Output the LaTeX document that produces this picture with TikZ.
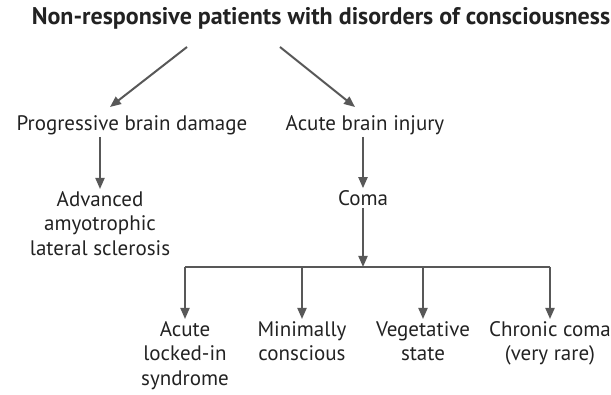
\documentclass[tikz,border=0pt]{standalone}
\usepackage{fontspec}
\setmainfont{PT Sans}
\usetikzlibrary{arrows.meta}

\definecolor{inkgray}{HTML}{222222}
\definecolor{arrowgray}{HTML}{585858}

\tikzset{
  labeltext/.style={text=inkgray, font=\fontsize{21}{24.5}\selectfont, align=center, inner sep=2pt},
  titletext/.style={text=inkgray, font=\fontsize{24}{28}\selectfont\bfseries, inner sep=2pt},
  arr/.style={draw=arrowgray, line width=2pt, -{Triangle[length=11pt,width=9pt]}},
  busline/.style={draw=arrowgray, line width=2pt},
}

\begin{document}
\begin{tikzpicture}[x=1pt,y=-1pt]
  % Page size
  \useasboundingbox (0,0) rectangle (611,395);

  % Title
  \node[titletext] (title) at (321,18) {Non-responsive patients with disorders of consciousness};

  % Two causes
  \node[labeltext] (prog) at (132,125) {Progressive brain damage};
  \node[labeltext] (acute) at (365,125) {Acute brain injury};

  % Next level
  \node[labeltext, anchor=north] (als) at (100,189) {Advanced\\amyotrophic\\lateral sclerosis};
  \node[labeltext] (coma) at (363,198) {Coma};

  % Outcomes of coma
  \node[labeltext, anchor=north] (lis) at (185,319) {Acute\\locked-in\\syndrome};
  \node[labeltext, anchor=north] (mcs) at (302,319) {Minimally\\conscious};
  \node[labeltext, anchor=north] (veg) at (423,319) {Vegetative\\state};
  \node[labeltext, anchor=north] (chr) at (550,319) {Chronic coma\\(very rare)};

  % Ends of the two slanted arrows
  \coordinate (leftstart) at (187,47);
  \coordinate (leftend) at (110,107);
  \coordinate (rightstart) at (280,47);
  \coordinate (rightend) at (355,107);
  \coordinate (fork) at (363,267);

  % Slanted arrows from the title
  \draw[arr] (leftstart) -- (leftend);
  \draw[arr] (rightstart) -- (rightend);

  % Straight arrows
  \draw[arr] (als.north |- prog.south) -- (als.north);
  \draw[arr] (coma.north |- acute.south) -- (coma.north);
  \draw[arr] (coma) -- (fork);

  % Bus line and the four drops
  \draw[busline] (lis.north |- fork) -- (chr.north |- fork);
  \foreach \n in {lis,mcs,veg,chr}
    \draw[arr] (\n.north |- fork) -- (\n.north);
\end{tikzpicture}
\end{document}
